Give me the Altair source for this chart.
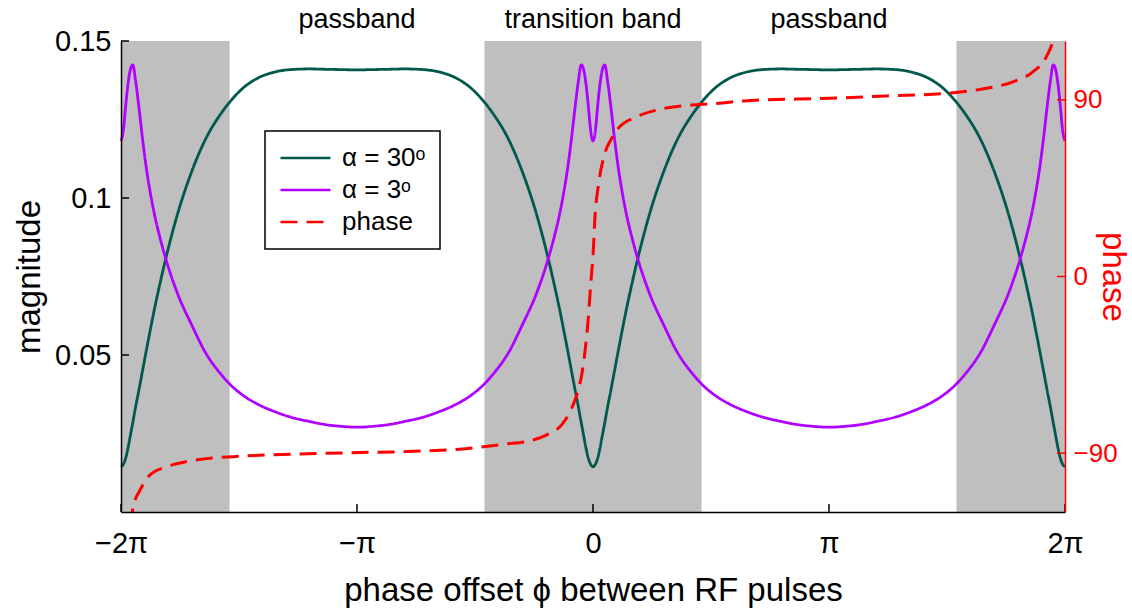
import altair as alt
import pandas as pd

# Phase offset between RF pulses, in units of pi
phi = [
    -2.0, -1.99, -1.98, -1.97, -1.96, -1.95, -1.938, -1.925, -1.91, -1.89, -1.875, -1.86, -1.835,
    -1.81, -1.76, -1.70, -1.64, -1.58, -1.54, -1.48, -1.42, -1.35, -1.28, -1.20, -1.14, -1.07, -1.00,
    -0.93, -0.86, -0.80, -0.72, -0.65, -0.58, -0.52, -0.46, -0.42, -0.36, -0.30, -0.24, -0.19,
    -0.165, -0.14, -0.125, -0.11, -0.09, -0.075, -0.062, -0.05, -0.04, -0.03, -0.02, -0.01, 0.0,
    0.01, 0.02, 0.03, 0.04, 0.05, 0.062, 0.075, 0.09, 0.11, 0.125, 0.14, 0.165, 0.19,
    0.24, 0.30, 0.36, 0.42, 0.46, 0.52, 0.58, 0.65, 0.72, 0.80, 0.86, 0.93, 1.00,
    1.07, 1.14, 1.20, 1.28, 1.35, 1.42, 1.48, 1.54, 1.58, 1.64, 1.70, 1.76, 1.81,
    1.835, 1.86, 1.875, 1.89, 1.91, 1.925, 1.938, 1.95, 1.96, 1.97, 1.98, 1.99, 2.0,
]

# Signal magnitude for flip angle 30 degrees
mag_30 = [
    0.0144, 0.0152, 0.0172, 0.0205, 0.0245, 0.0285, 0.0335, 0.0385, 0.0445, 0.0525, 0.0583, 0.0640, 0.0727,
    0.0808, 0.0950, 0.1085, 0.1190, 0.1265, 0.1305, 0.1352, 0.1382, 0.1401, 0.1409, 0.1411, 0.1410, 0.1409, 0.1408,
    0.1409, 0.1410, 0.1411, 0.1409, 0.1401, 0.1382, 0.1352, 0.1305, 0.1265, 0.1190, 0.1085, 0.0950, 0.0808,
    0.0727, 0.0640, 0.0583, 0.0525, 0.0445, 0.0385, 0.0335, 0.0285, 0.0245, 0.0205, 0.0172, 0.0152, 0.0144,
    0.0152, 0.0172, 0.0205, 0.0245, 0.0285, 0.0335, 0.0385, 0.0445, 0.0525, 0.0583, 0.0640, 0.0727, 0.0808,
    0.0950, 0.1085, 0.1190, 0.1265, 0.1305, 0.1352, 0.1382, 0.1401, 0.1409, 0.1411, 0.1410, 0.1409, 0.1408,
    0.1409, 0.1410, 0.1411, 0.1409, 0.1401, 0.1382, 0.1352, 0.1305, 0.1265, 0.1190, 0.1085, 0.0950, 0.0808,
    0.0727, 0.0640, 0.0583, 0.0525, 0.0445, 0.0385, 0.0335, 0.0285, 0.0245, 0.0205, 0.0172, 0.0152, 0.0144,
]

# Signal magnitude for flip angle 3 degrees
mag_3 = [
    0.1182, 0.1215, 0.1295, 0.1365, 0.1410, 0.1424, 0.1372, 0.1295, 0.1196, 0.1082, 0.1013, 0.0954, 0.0874,
    0.0806, 0.0695, 0.0595, 0.0505, 0.0442, 0.0408, 0.0370, 0.0343, 0.0320, 0.0302, 0.0288, 0.0279, 0.0273, 0.0270,
    0.0273, 0.0279, 0.0288, 0.0302, 0.0320, 0.0343, 0.0370, 0.0408, 0.0442, 0.0505, 0.0595, 0.0695, 0.0806,
    0.0874, 0.0954, 0.1013, 0.1082, 0.1196, 0.1295, 0.1372, 0.1424, 0.1410, 0.1365, 0.1295, 0.1215, 0.1182,
    0.1215, 0.1295, 0.1365, 0.1410, 0.1424, 0.1372, 0.1295, 0.1196, 0.1082, 0.1013, 0.0954, 0.0874, 0.0806,
    0.0695, 0.0595, 0.0505, 0.0442, 0.0408, 0.0370, 0.0343, 0.0320, 0.0302, 0.0288, 0.0279, 0.0273, 0.0270,
    0.0273, 0.0279, 0.0288, 0.0302, 0.0320, 0.0343, 0.0370, 0.0408, 0.0442, 0.0505, 0.0595, 0.0695, 0.0806,
    0.0874, 0.0954, 0.1013, 0.1082, 0.1196, 0.1295, 0.1372, 0.1424, 0.1410, 0.1365, 0.1295, 0.1215, 0.1182,
]

# Signal phase (degrees); the ends wrap beyond the axis range and are clipped
phase_phi = [
    -1.975, -1.948, -1.919, -1.877, -1.806, -1.722, -1.623, -1.524, -1.383, -1.242, -0.987, -0.789,
    -0.521, -0.380, -0.253, -0.196, -0.133, -0.097, -0.069, -0.048, -0.034, -0.020, -0.010, 0.001,
    0.008, 0.023, 0.044, 0.079, 0.107, 0.185, 0.270, 0.383, 0.524, 0.653, 1.0, 1.244, 1.526,
    1.667, 1.780, 1.864, 1.921, 1.949, 1.975,
]
phase_deg = [
    -140.0, -117.3, -108.8, -101.1, -96.9, -94.3, -92.6, -91.8, -90.9, -90.4, -89.7, -89.2,
    -87.5, -85.5, -83.3, -80.7, -75.6, -68.9, -60.4, -50.2, -38.3, -21.3, -4.3, 12.6,
    29.6, 46.6, 60.2, 70.4, 75.5, 81.4, 84.8, 87.0, 88.2, 89.6, 90.8, 92.0, 93.6,
    95.9, 99.2, 104.3, 112.0, 120.5, 140.0,
]

# Shaded transition bands
band_start = [-2.0, -0.46, 1.54]
band_end = [-1.54, 0.46, 2.0]

# Region labels above the plot
region_phi = [-1.0, 0.0, 1.0]
region_text = ["passband", "transition band", "passband"]

x_ticks = [-2, -1, 0, 1, 2]
x_tick_labels = ["\u22122\u03c0", "\u2212\u03c0", "0", "\u03c0", "2\u03c0"]
mag_ticks = [0.05, 0.1, 0.15]
phase_ticks = [-90, 0, 90]

S30 = "\u03b1 = 30\u1d52"
S3 = "\u03b1 = 3\u1d52"
SP = "phase"

W, H = 944, 471
FONT = "Liberation Sans"
GREEN = "#00594c"
PURPLE = "#b000ff"
RED = "#ff0000"
GRAY = "#bfbfbf"

mag_df = pd.concat([
    pd.DataFrame({"phi": phi, "mag": mag_30, "series": S30}),
    pd.DataFrame({"phi": phi, "mag": mag_3, "series": S3}),
])
phase_df = pd.DataFrame({"phi": phase_phi, "deg": phase_deg, "series": SP})
band_df = pd.DataFrame({"start": band_start, "end": band_end})
region_df = pd.DataFrame({"phi": region_phi, "label": region_text})

label_expr = " : ".join(
    f"datum.value == {v} ? '{t}'" for v, t in zip(x_ticks, x_tick_labels)
) + " : ''"

x_scale = alt.Scale(domain=[-2, 2], nice=False, zero=False)
x_axis = alt.Axis(
    values=x_ticks, labelExpr=label_expr, title="phase offset \u03d5 between RF pulses",
    tickSize=0, labelPadding=17, labelFontSize=29, titleFontSize=33, titlePadding=16,
    labelFlush=False, domainColor="black", domainWidth=1.5, grid=False, zindex=1,
    labelColor="black", titleColor="black", titleFontWeight="normal",
)
mag_scale = alt.Scale(domain=[0, 0.15], nice=False, zero=False)
mag_axis = alt.Axis(
    values=mag_ticks, format=".2~f", title="magnitude", orient="left",
    tickSize=0, labelPadding=10, labelFontSize=29, titleFontSize=33, titlePadding=8,
    domainColor="black", domainWidth=1.5, grid=False, zindex=1,
    labelColor="black", titleColor="black", titleFontWeight="normal",
)
phase_scale = alt.Scale(domain=[-120, 120], nice=False, zero=False)
phase_axis = alt.Axis(
    values=phase_ticks, title="phase", orient="right",
    tickSize=0, labelPadding=8, labelFontSize=26, titleFontSize=33,
    titleX=47, titleY=H / 2, titleAngle=90, titleAlign="center", titleBaseline="middle",
    domainColor=RED, domainWidth=1.5, grid=False, zindex=1,
    labelColor=RED, titleColor=RED, titleFontWeight="normal",
)

legend = alt.Legend(
    title=None, orient="none", legendX=144, legendY=90,
    symbolType="stroke", symbolSize=2500, symbolStrokeWidth=2.5,
    labelFontSize=26, labelOffset=10, padding=14, rowPadding=6, clipHeight=26,
    strokeColor="black", fillColor="white",
)
color_enc = alt.Color(
    "series:N", scale=alt.Scale(domain=[S30, S3, SP], range=[GREEN, PURPLE, RED]), legend=legend
)
dash_enc = alt.StrokeDash(
    "series:N", scale=alt.Scale(domain=[S30, S3, SP], range=[[1, 0], [1, 0], [17, 9]]), legend=legend
)

bands = alt.Chart(band_df).mark_rect(color=GRAY).encode(
    x=alt.X("start:Q", scale=x_scale, axis=x_axis), x2="end:Q"
)

mag_lines = alt.Chart(mag_df).mark_line(strokeWidth=2.8, interpolate="monotone").encode(
    x=alt.X("phi:Q", scale=x_scale, axis=x_axis),
    y=alt.Y("mag:Q", scale=mag_scale, axis=mag_axis),
    color=color_enc, strokeDash=dash_enc,
)

left_ticks = alt.Chart(pd.DataFrame({"mag": mag_ticks})).mark_rule(color="black", strokeWidth=1.5).encode(
    y=alt.Y("mag:Q", scale=mag_scale, axis=mag_axis), x=alt.value(0), x2=alt.value(8)
)
bottom_ticks = alt.Chart(pd.DataFrame({"phi": x_ticks})).mark_rule(color="black", strokeWidth=1.5).encode(
    x=alt.X("phi:Q", scale=x_scale, axis=x_axis), y=alt.value(H), y2=alt.value(H - 8)
)
region_labels = alt.Chart(region_df).mark_text(
    fontSize=27, font=FONT, baseline="middle", align="center", color="black"
).encode(
    x=alt.X("phi:Q", scale=x_scale, axis=x_axis), y=alt.value(-21), text="label:N"
)

phase_line = alt.Chart(phase_df).mark_line(strokeWidth=3, interpolate="monotone", clip=True).encode(
    x=alt.X("phi:Q", scale=x_scale, axis=x_axis),
    y=alt.Y("deg:Q", scale=phase_scale, axis=phase_axis),
    color=color_enc, strokeDash=dash_enc,
)
right_ticks = alt.Chart(pd.DataFrame({"deg": phase_ticks})).mark_rule(color=RED, strokeWidth=1.5).encode(
    y=alt.Y("deg:Q", scale=phase_scale, axis=phase_axis), x=alt.value(W), x2=alt.value(W - 8)
)

mag_group = alt.layer(bands, mag_lines, left_ticks, bottom_ticks, region_labels)
phase_group = alt.layer(phase_line, right_ticks)

chart = (
    alt.layer(mag_group, phase_group)
    .resolve_scale(y="independent")
    .properties(
        width=W, height=H,
        padding={"left": 121, "top": 41, "right": 67, "bottom": 98},
        autosize=alt.AutoSizeParams(type="none"),
        background="white",
    )
    .configure(font=FONT)
    .configure_view(stroke=None)
    .configure_legend(strokeWidth=1.5, labelFont=FONT, labelColor="black")
)

chart.save("out.html", embed_options={"renderer": "svg", "actions": False})
